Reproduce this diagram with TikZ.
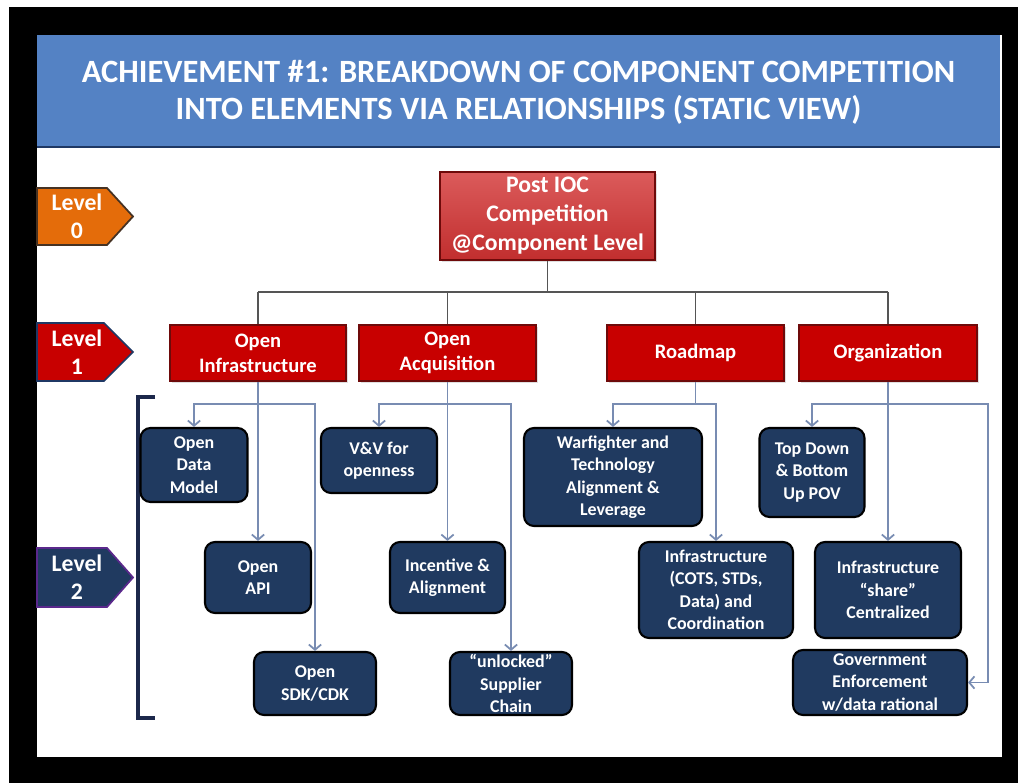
\documentclass[tikz,border=0pt]{standalone}
\usepackage{fontspec}
\setmainfont{Carlito}
\usetikzlibrary{arrows.meta,shadows}
\definecolor{hdrblue}{RGB}{84,130,196}
\definecolor{hdrline}{RGB}{31,56,100}
\definecolor{postred}{RGB}{210,50,50}
\definecolor{lvlred}{RGB}{200,0,0}
\definecolor{redline}{RGB}{110,10,10}
\definecolor{navy}{RGB}{32,58,96}
\definecolor{tagorange}{RGB}{228,108,10}
\definecolor{tagbrown}{RGB}{70,50,35}
\definecolor{tagpurple}{RGB}{90,40,140}
\definecolor{linkgray}{RGB}{85,85,85}
\definecolor{linkblue}{RGB}{120,140,178}
\definecolor{bracketnavy}{RGB}{28,40,75}
\begin{document}
\begin{tikzpicture}[x=0.02cm, y=-0.02cm,
	titletext/.style={text=white, font=\bfseries\fontsize{18.5}{21}\selectfont, align=center},
	tagtext/.style={text=white, font=\bfseries\fontsize{13.5}{16}\selectfont, align=center},
	tagshape/.style={line width=1pt, line join=miter},
	rootbox/.style={draw=redline, line width=0.8pt, top color=postred!80!white, bottom color=postred!92!black, text=white, font=\bfseries\fontsize{13.5}{16.5}\selectfont, align=center, inner sep=0, drop shadow={opacity=0.25, shadow xshift=1pt, shadow yshift=-1pt}},
	catbox/.style={draw=redline, line width=0.8pt, fill=lvlred, text=white, font=\bfseries\fontsize{11.7}{14.2}\selectfont, align=center, inner sep=0, minimum height=1.12cm, drop shadow={opacity=0.25, shadow xshift=1pt, shadow yshift=-1pt}},
	elembox/.style={draw=black, line width=1.2pt, fill=navy, rounded corners=0.2cm, text=white, font=\bfseries\fontsize{10.2}{12.8}\selectfont, align=center, inner sep=0},
	trunk/.style={draw=linkgray, line width=0.8pt},
	link/.style={draw=linkblue, line width=1pt},
	branch/.style={link, -{Straight Barb[length=3pt, width=7pt]}},
	levelbracket/.style={draw=bracketnavy, line width=2pt}
]
	\useasboundingbox (0,0) rectangle (1018,783);
	\fill[white] (0,0) rectangle (1018,783);
	\fill[black] (9,7) rectangle (1018,783);
	\fill[white] (37,35) rectangle (1002,757);
	\fill[hdrblue] (37,35) rectangle (1000,147);
	\draw[hdrline, line width=1.5pt] (37,147) -- (1000,147);
	\node[titletext] (title) at (518.5,92) {ACHIEVEMENT \#1: BREAKDOWN OF COMPONENT COMPETITION\\INTO ELEMENTS VIA RELATIONSHIPS (STATIC VIEW)};

	\draw[tagshape, fill=tagorange, draw=tagbrown] (37,188) -- (107,188) -- (133,216.5) -- (107,245) -- (37,245) -- cycle;
	\draw[tagshape, fill=lvlred, draw=hdrline] (37,323) -- (104,323) -- (133,352) -- (104,381) -- (37,381) -- cycle;
	\draw[tagshape, fill=navy, draw=tagpurple] (37,548) -- (107,548) -- (133,577.5) -- (107,607) -- (37,607) -- cycle;
	\node[tagtext] (lvl0) at (77,216.5) {Level\\0};
	\node[tagtext] (lvl1) at (77,352) {Level\\1};
	\node[tagtext] (lvl2) at (77,577.5) {Level\\2};
	\draw[levelbracket] (155,397) -- (138,397) -- (138,718) -- (155,718);

	\node[rootbox, minimum width=4.3cm, minimum height=1.76cm] (post) at (547.5,216) {Post IOC\\Competition\\@Component Level};

	\node[catbox, minimum width=3.52cm] (oi) at (258,353) {Open\\Infrastructure};
	\node[catbox, minimum width=3.54cm] (oa) at (447.5,353) {Open\\Acquisition};
	\node[catbox, minimum width=3.54cm] (rm) at (695.5,353) {Roadmap};
	\node[catbox, minimum width=3.56cm] (org) at (888,353) {Organization};

	\node[elembox, minimum width=2.14cm, minimum height=1.48cm] (odm) at (194,465) {Open\\Data\\Model};
	\node[elembox, minimum width=2.12cm, minimum height=1.42cm] (api) at (258,577.5) {Open\\API};
	\node[elembox, minimum width=2.44cm, minimum height=1.26cm] (sdk) at (315,683.5) {Open\\SDK/CDK};
	\node[elembox, minimum width=2.32cm, minimum height=1.3cm] (vv) at (379,460.5) {V\&V for\\openness};
	\node[elembox, minimum width=2.3cm, minimum height=1.42cm] (inc) at (447.5,577.5) {Incentive \&\\Alignment};
	\node[elembox, minimum width=2.44cm, minimum height=1.26cm] (unl) at (511,683.5) {“unlocked”\\Supplier\\Chain};
	\node[elembox, minimum width=3.56cm, minimum height=1.96cm] (war) at (613,477) {Warfighter and\\Technology\\Alignment \&\\Leverage};
	\node[elembox, minimum width=3.08cm, minimum height=1.92cm] (cots) at (716,590) {Infrastructure\\(COTS, STDs,\\Data) and\\Coordination};
	\node[elembox, minimum width=2.1cm, minimum height=1.78cm] (tdb) at (812,472.5) {Top Down\\\& Bottom\\Up POV};
	\node[elembox, minimum width=2.92cm, minimum height=1.92cm] (shr) at (888,590) {Infrastructure\\“share”\\Centralized};
	\node[elembox, minimum width=3.48cm, minimum height=1.3cm] (gov) at (880,682.5) {Government\\Enforcement\\w/data rational};

	\coordinate (topbus) at (0,292);
	\coordinate (lowbus) at (0,404);
	\coordinate (govbend) at (988,404);

	\draw[trunk] (post.south) -- (post.south |- topbus);
	\draw[trunk] (oi.north |- topbus) -- (org.north |- topbus);
	\foreach \n in {oi,oa,rm,org}
		\draw[trunk] (\n.north |- topbus) -- (\n.north);

	\draw[branch] (oi.south) -- (api.north);
	\draw[branch] (oi.south |- lowbus) -| (odm.north);
	\draw[branch] (oi.south |- lowbus) -| (sdk.north);
	\draw[branch] (oa.south) -- (inc.north);
	\draw[branch] (oa.south |- lowbus) -| (vv.north);
	\draw[branch] (oa.south |- lowbus) -| (unl.north);
	\draw[link] (rm.south) -- (rm.south |- lowbus);
	\draw[branch] (rm.south |- lowbus) -| (war.north);
	\draw[branch] (rm.south |- lowbus) -| (cots.north);
	\draw[branch] (org.south) -- (shr.north);
	\draw[branch] (org.south |- lowbus) -| (tdb.north);
	\draw[branch] (org.south |- lowbus) -- (govbend) |- (gov.east);
\end{tikzpicture}
\end{document}
